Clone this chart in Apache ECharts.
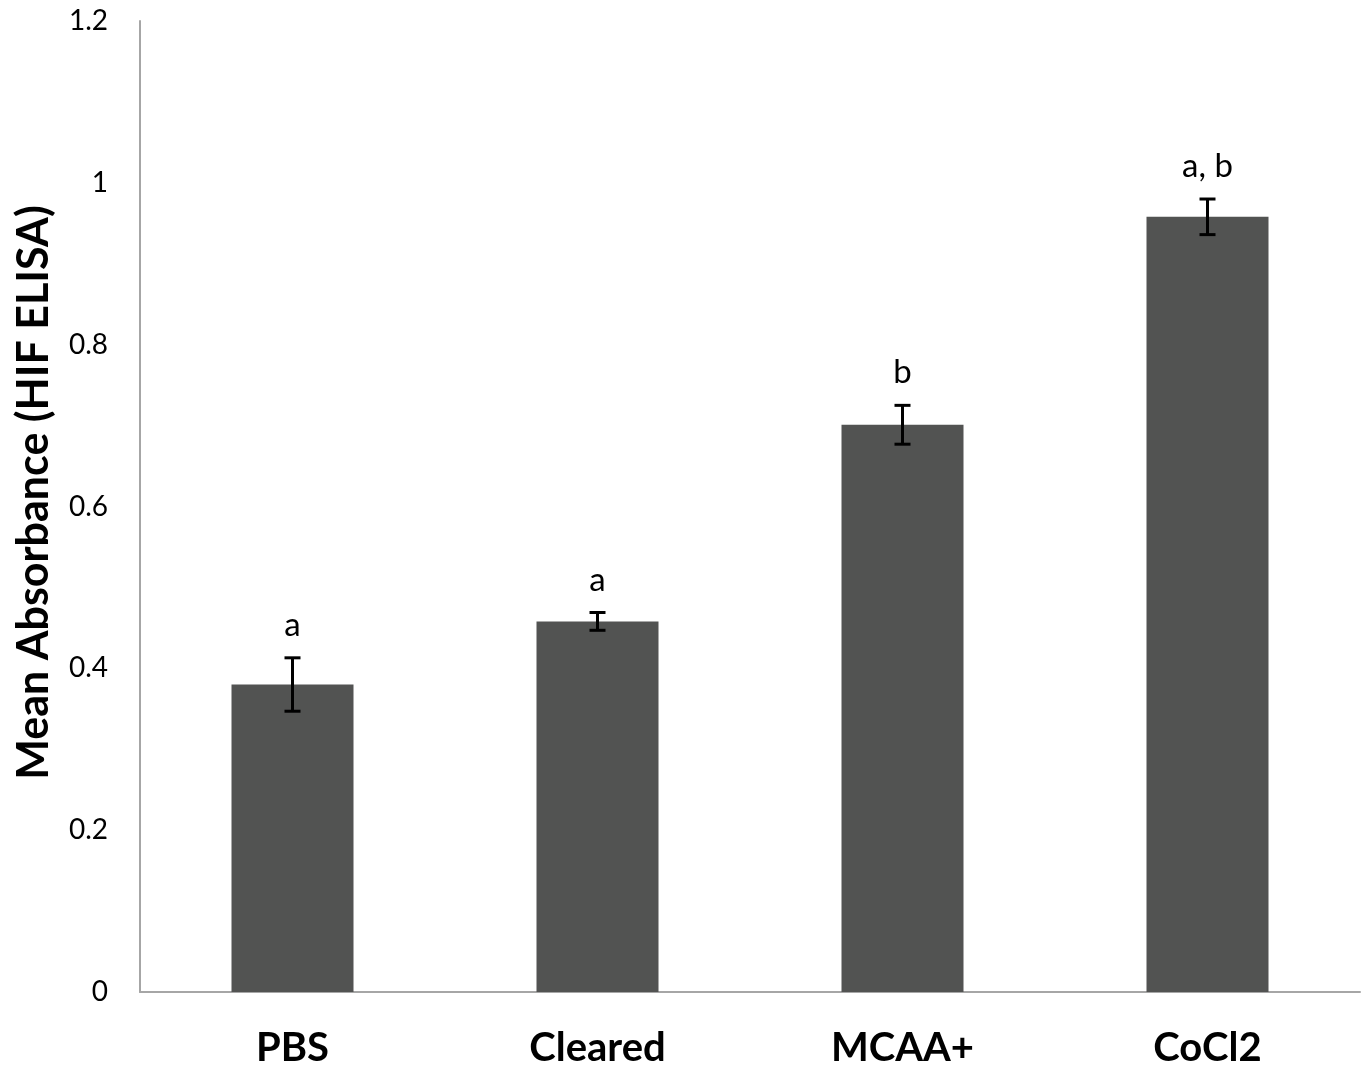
<!DOCTYPE html>
<html>
<head>
<meta charset="utf-8">
<script src="https://cdn.jsdelivr.net/npm/echarts@6/dist/echarts.min.js"></script>
<style>
html,body{margin:0;padding:0;background:#fff;}
#chart{width:1363px;height:1072px;}
</style>
</head>
<body>
<div id="chart"></div>
<script>
const categories = ['PBS', 'Cleared', 'MCAA+', 'CoCl2'];
const meanValues = [0.380, 0.458, 0.701, 0.958];
const errValues = [0.033, 0.011, 0.024, 0.022];
const sigLetters = ['a', 'a', 'b', 'a, b'];
const yTicks = { min: 0, max: 1.2, interval: 0.2 };

const chart = echarts.init(document.getElementById('chart'));
const errData = categories.map((c, i) => [i, meanValues[i], errValues[i], sigLetters[i]]);

chart.setOption({
  animation: false,
  backgroundColor: '#fff',
  grid: { left: 140, right: 3, top: 21, bottom: 80 },
  xAxis: {
    type: 'category',
    data: categories,
    axisLine: { lineStyle: { color: '#a6a6a6', width: 2 } },
    axisTick: { show: false },
    axisLabel: { color: '#000', fontFamily: 'Lato', fontWeight: 'bold', fontSize: 40, margin: 36 }
  },
  yAxis: {
    type: 'value',
    min: yTicks.min, max: yTicks.max, interval: yTicks.interval,
    name: 'Mean Absorbance (HIF ELISA)',
    nameLocation: 'middle',
    nameGap: 84,
    nameTextStyle: { color: '#000', fontFamily: 'Lato', fontWeight: 'bold', fontSize: 43, padding: [0, 0, 0, 28] },
    axisLine: { show: true, lineStyle: { color: '#a6a6a6', width: 2 } },
    axisTick: { show: false },
    splitLine: { show: false },
    axisLabel: { color: '#000', fontFamily: 'Lato', fontSize: 28, margin: 32 }
  },
  series: [
    {
      type: 'bar',
      data: meanValues,
      barWidth: '40%',
      itemStyle: { color: '#525352' }
    },
    {
      type: 'custom',
      data: errData,
      z: 10,
      renderItem: function (params, api) {
        const i = api.value(0), m = api.value(1), e = api.value(2);
        const top = api.coord([i, m + e]);
        const bot = api.coord([i, m - e]);
        const cap = 8;
        const style = { stroke: '#000', lineWidth: 3 };
        return {
          type: 'group',
          children: [
            { type: 'line', shape: { x1: top[0], y1: top[1], x2: bot[0], y2: bot[1] }, style: style },
            { type: 'line', shape: { x1: top[0] - cap, y1: top[1], x2: top[0] + cap, y2: top[1] }, style: style },
            { type: 'line', shape: { x1: bot[0] - cap, y1: bot[1], x2: bot[0] + cap, y2: bot[1] }, style: style },
            { type: 'text', x: top[0], y: top[1] - 16,
              style: { text: sigLetters[params.dataIndex], fill: '#000', font: '33px Lato', textAlign: 'center', textVerticalAlign: 'bottom' } }
          ]
        };
      }
    }
  ]
});
</script>
</body>
</html>
